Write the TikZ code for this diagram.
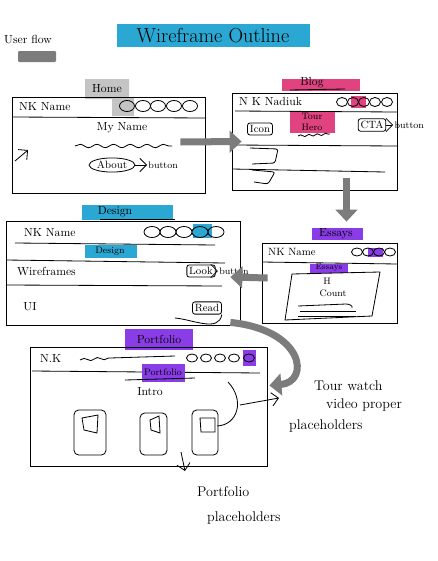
\documentclass[tikz,border=0pt]{standalone}
\usetikzlibrary{positioning,fit,calc,arrows.meta,shapes.geometric,decorations.pathmorphing}
\definecolor{hlblue}{HTML}{2AA7D2}
\definecolor{hlpink}{HTML}{E0437F}
\definecolor{hlpurple}{HTML}{8A3DE6}
\definecolor{hlgray}{HTML}{C4C4C4}
\definecolor{flowgray}{HTML}{7C7C7C}

\begin{document}
\begin{tikzpicture}[x=.03cm,y=-.03cm,
        pen/.style={line width=.7pt},
        frame/.style={draw, pen, inner sep=0pt},
        btn/.style={draw, pen, rounded corners=2pt, inner sep=2pt, font=\small},
        tag/.style={font=\footnotesize, inner sep=1pt},
        squiggle/.style={pen, decorate, decoration={snake, amplitude=.5mm, segment length=5mm}},
        flow/.style={draw=flowgray, line width=2.1mm, -{Triangle[length=3.6mm,width=6.5mm]}},
        note arrow/.style={pen, -{Straight Barb[length=2mm]}}]
        \useasboundingbox (0,0) rectangle (437,561);

        % title and legend
        \fill[hlblue] (117,24) rectangle (310,47);
        \node[font=\LARGE] (title) at (213,36) {Wireframe Outline};
        \node[anchor=west, inner sep=0pt] (userflow) at (4,39) {User flow};
        \fill[flowgray, rounded corners=1pt] (18,51) rectangle (56,62);

        % home
        \fill[hlgray] (85,79) rectangle (129,99) (112,97) rectangle (134,116);
        \node (homelbl) at (107,89) {Home};
        \node[frame, fit={(12,97) (205,193)}] (home) {};
        \node[anchor=west] (homename) at (15,107) {NK Name};
        \foreach \cx in {127,143,158,174,190}
          \draw[pen] (\cx,106) ellipse [x radius=7.5, y radius=5.5];
        \draw[pen] (12,117) -- (205,118);
        \node (myname) at (122,128) {My Name};
        \draw[squiggle] (75,146) -- (172,146);
        \draw[note arrow] (15,161) -- (28,150);
        \node[draw, pen, ellipse, inner sep=1pt, font=\small] (about) at (112,165) {About};
        \node[tag, right=10pt of about] (aboutbtn) {button};
        \draw[note arrow] (about) -- (aboutbtn);

        % blog
        \fill[hlpink] (282,79) rectangle (360,91);
        \node (bloglbl) at (312,83) {Blog};
        \draw[pen] (290,90) -- (345,89);
        \node[frame, fit={(232,93) (397,190)}] (blog) {};
        \node[anchor=west] (blogname) at (235,101) {N K Nadiuk};
        \fill[hlpink] (351,96) rectangle (366,108);
        \foreach \cx in {342,353,364,375,387}
          \draw[pen] (\cx,102) ellipse [x radius=5.5, y radius=4.5];
        \draw[pen] (235,111) -- (397,112);
        \fill[hlpink] (290,112) rectangle (335,133);
        \node[tag, align=center] (hero) at (312,122) {Tour\\Hero};
        \draw[squiggle, decoration={amplitude=.3mm, segment length=2.5mm}] (298,136) -- (330,134);
        \node[btn] (icon) at (260,129) {Icon};
        \node[btn] (cta) at (372,125) {CTA};
        \node[tag, right=6pt of cta] (ctabtn) {button};
        \draw[note arrow] (cta) -- (ctabtn);
        \draw[pen] (232,145) -- (397,146);
        \draw[pen] (232,169) -- (385,172);
        \draw[pen, rounded corners=2pt] (250,148) -- (278,149) -- (275,163) -- (252,164);
        \draw[pen, rounded corners=2pt] (252,170) -- (275,172) -- (268,184) -- (254,182);

        % essays
        \fill[hlpurple] (312,228) rectangle (363,240);
        \node (essayslbl) at (336,234) {Essays};
        \node[frame, fit={(262,243) (397,323)}] (essays) {};
        \node[anchor=west, font=\small] (essaysname) at (264,252) {NK Name};
        \fill[hlpurple] (368,248) rectangle (383,257);
        \foreach \cx in {357,368,379,390}
          \draw[pen] (\cx,252) ellipse [x radius=5.5, y radius=4];
        \draw[pen] (262,262) -- (397,264);
        \fill[hlpurple] (310,264) rectangle (348,273);
        \node[tag, font=\scriptsize] (essaystag) at (329,268) {Essays};
        \draw[pen] (292,274) -- (380,272) -- (372,316) -- (285,320) -- cycle;
        \node[tag] (hash) at (327,281) {H};
        \node[tag] (count) at (333,293) {Count};
        \draw[pen] (298,306) -- (346,304) to[out=0, in=60] (352,308);
        \draw[pen] (300,311) -- (356,311);
        \draw[pen] (298,316) -- (356,316);

        % design
        \fill[hlblue] (82,205) rectangle (173,220);
        \node (designlbl) at (115,212) {Design};
        \draw[pen] (100,219) -- (175,219);
        \node[frame, fit={(6,221) (240,325)}] (design) {};
        \node[anchor=west] (designname) at (20,233) {NK Name};
        \fill[hlblue] (193,224) rectangle (212,238);
        \foreach \cx in {152,168,184,200,216}
          \draw[pen] (\cx,232) ellipse [x radius=8, y radius=5.5];
        \draw[pen] (15,243) -- (215,245);
        \fill[hlblue] (85,245) rectangle (137,258);
        \node[tag] (designtag) at (110,251) {Design};
        \draw[pen] (6,260) -- (225,263);
        \node[anchor=west] (wireframes) at (13,271) {Wireframes};
        \node[btn] (look) at (201,271) {Look};
        \node[tag, right=2pt of look] (lookbtn) {button};
        \draw[note arrow] (look) -- (lookbtn);
        \draw[pen] (6,285) -- (222,286);
        \node (ui) at (30,307) {UI};
        \node[btn] (read) at (207,308) {Read};
        \draw[pen] (175,318) to[out=-5, in=-100] (read.south east);

        % portfolio
        \fill[hlpurple] (125,329) rectangle (193,350);
        \node (portfoliolbl) at (159,339) {Portfolio};
        \node[frame, fit={(30,347) (267,466)}] (portfolio) {};
        \node[anchor=west] (portfolioname) at (36,358) {N.K};
        \draw[squiggle, decoration={amplitude=.4mm, segment length=4mm}] (80,360) -- (110,358);
        \draw[pen] (110,358) -- (175,356);
        \fill[hlpurple] (243,350) rectangle (256,366);
        \foreach \cx in {192,206,220,234,249}
          \draw[pen] (\cx,358) ellipse [x radius=5.5, y radius=4];
        \draw[pen] (32,371) -- (260,373);
        \fill[hlpurple] (142,364) rectangle (185,382);
        \node[tag] (portfoliotag) at (163,372) {Portfolio};
        \draw[pen] (125,380) -- (195,378);
        \node (intro) at (150,392) {Intro};
        \node[draw, pen, rounded corners=4pt, fit={(74,410) (106,455)}, inner sep=0pt] (ph1) {};
        \node[draw, pen, rounded corners=4pt, fit={(140,413) (167,455)}, inner sep=0pt] (ph2) {};
        \node[draw, pen, rounded corners=4pt, fit={(192,410) (218,455)}, inner sep=0pt] (ph3) {};
        \draw[pen] (82,418) -- (98,415) -- (97,433) -- (84,430) -- cycle;
        \draw[pen] (150,420) -- (159,416) -- (160,433) -- (151,430) -- cycle;
        \draw[pen] (200,418) -- (215,418) -- (215,432) -- (201,432) -- cycle;
        \coordinate (videotop) at (228,382);
        \coordinate (videoend) at (217,426);
        \draw[pen] (videotop) .. controls (245,400) and (238,425) .. (videoend);

        % notes
        \node[anchor=west, font=\large] (note1) at (310,386) {Tour watch};
        \node[anchor=west, font=\large] (note2) at (322,405) {video proper};
        \node[anchor=west, font=\large] (note3) at (285,426) {placeholders};
        \coordinate (notetail) at (240,405);
        \coordinate (notehead) at (279,398);
        \draw[note arrow] (notetail) -- (notehead);
        \node[anchor=west, font=\large] (ppl1) at (193,492) {Portfolio};
        \node[anchor=west, font=\large] (ppl2) at (203,518) {placeholders};
        \coordinate (phtail) at (181,452);
        \coordinate (phhead) at (185,471);
        \draw[note arrow] (phtail) -- (phhead);

        % user flow
        \draw[flow] ([shift={(-25,-3)}]home.east) -- ([shift={(10,0)}]blog.west);
        \draw[flow] ([shift={(32,-12)}]blog.south) -- ([shift={(17,-21)}]essays.north);
        \draw[flow] ([shift={(6,-5)}]essays.west) -- ([shift={(-10,4)}]design.east);
        \draw[flow] ([shift={(-10,-3)}]design.south east) .. controls (305,330) and (310,382) .. ([shift={(2,-21)}]portfolio.east);
\end{tikzpicture}
\end{document}
